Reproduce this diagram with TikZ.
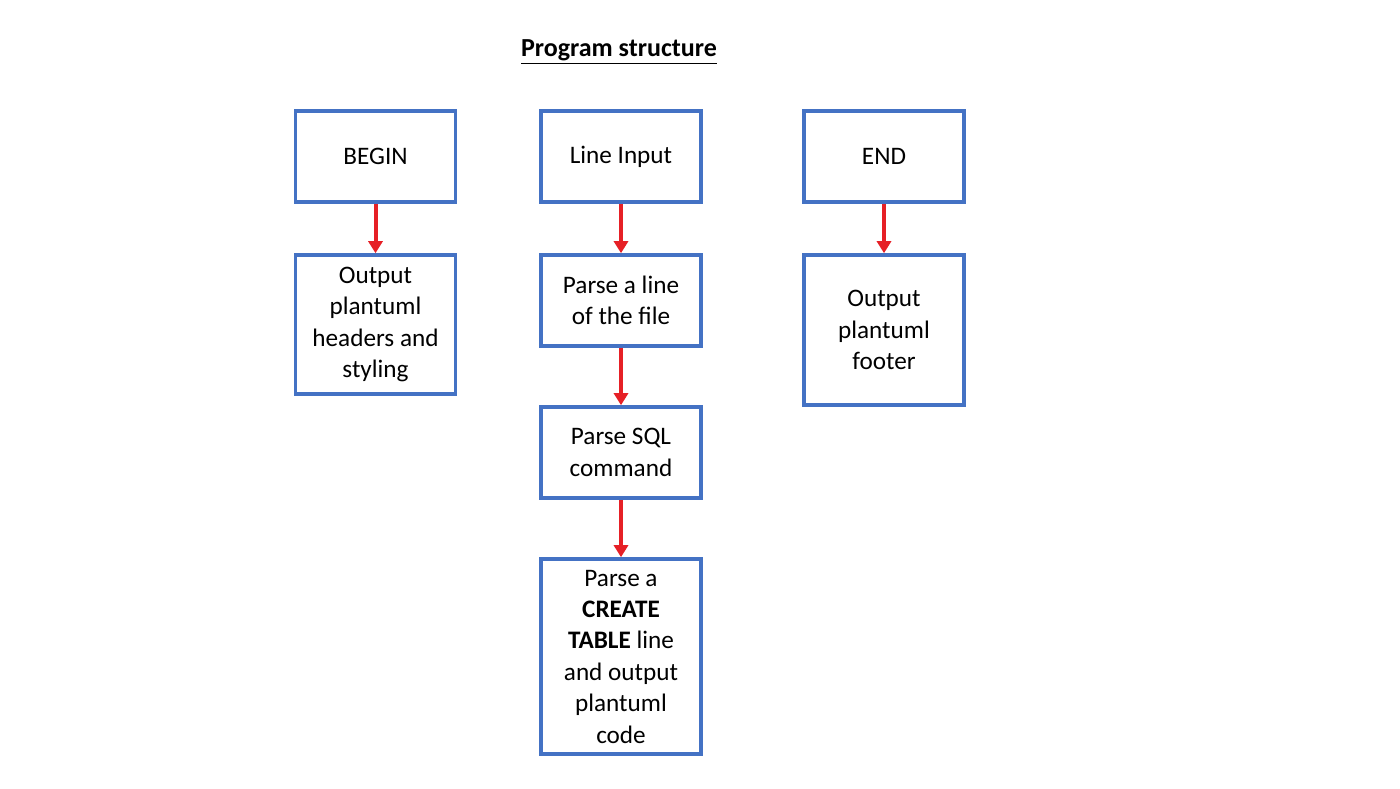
\documentclass[tikz,border=0pt]{standalone}
\usepackage{fontspec}
\setmainfont{Carlito}
\usepackage{tikz}
\usetikzlibrary{arrows.meta}
\definecolor{Box-Blue}{RGB}{68, 114, 196}
\definecolor{Arrow-Red}{RGB}{230, 32, 38}

\begin{document}
\begin{tikzpicture}[x=0.5pt, y=-0.5pt, font=\fontsize{12.6}{15.7}\selectfont,
  stepbox/.style={rectangle, draw=Box-Blue, line width=1.8pt, minimum width=80pt, text width=77pt, inner sep=1pt, outer sep=0pt, align=flush center},
  flow/.style={draw=Arrow-Red, line width=2pt, -{Triangle[length=6pt, width=7pt]}, shorten <=0.9pt, shorten >=0.9pt}]

\useasboundingbox (0,0) rectangle (1400,788);

\node [font=\fontsize{13}{15}\selectfont\bfseries] (title) at (619,52) {\underline{Program structure}};

\node [stepbox, minimum height=45.5pt] (begin) at (375.5,156.5) {BEGIN};

\node [stepbox, minimum height=69.5pt, anchor=north] (hdr) at ([yshift=-26.5pt]begin.south) {
Output\\ plantuml\\ headers and\\ styling};

\node [stepbox, minimum height=45.5pt] (input) at (621,156.5) {Line Input};

\node [stepbox, minimum height=45.5pt, anchor=north] (line) at ([yshift=-26.5pt]input.south) {
Parse a line\\ of the file};

\node [stepbox, minimum height=45.5pt, anchor=north] (sql) at ([yshift=-30.5pt]line.south) {
Parse SQL\\ command};

\node [stepbox, minimum height=97.5pt, anchor=north] (create) at ([yshift=-30.5pt]sql.south) {
Parse a\\ \textbf{CREATE}\\ \textbf{TABLE} line\\ and output\\ plantuml\\ code};

\node [stepbox, minimum height=45.5pt] (end) at (884,156.5) {END};

\node [stepbox, minimum height=75pt, anchor=north] (ftr) at ([yshift=-26.5pt]end.south) {
Output\\ plantuml\\ footer};

\draw [flow] (begin) -- (hdr);
\draw [flow] (input) -- (line);
\draw [flow] (line) -- (sql);
\draw [flow] (sql) -- (create);
\draw [flow] (end) -- (ftr);

\end{tikzpicture}
\end{document}
